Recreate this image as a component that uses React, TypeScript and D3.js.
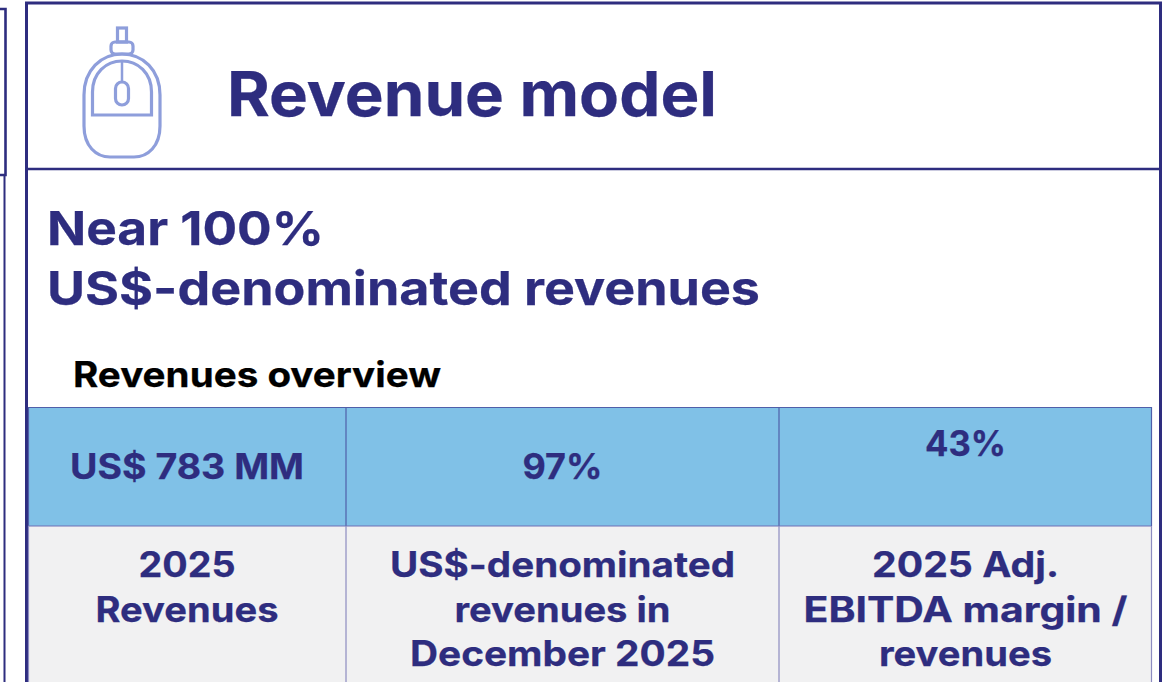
import React from "react";
import { scaleOrdinal, scalePoint, path } from "d3";

const title = "Revenue model";
const headline = ["Near 100%", "US$-denominated revenues"];
const tableTitle = "Revenues overview";
const columns = ["revenues", "usd", "margin"];
const highlights = ["US$ 783 MM", "97%", "43%"];
const descriptions = [
  ["2025", "Revenues"],
  ["US$-denominated", "revenues in", "December 2025"],
  ["2025 Adj.", "EBITDA margin /", "revenues"],
];

const NAVY = "#2e2d7f";
const FONT = "Inter, 'Open Sans', sans-serif";

// column edges and centers, the table columns are not equal
const colLeft = scaleOrdinal<string, number>().domain(columns).range([28, 346, 779]);
const colRight = scaleOrdinal<string, number>().domain(columns).range([346, 779, 1151]);
const colCenter = scaleOrdinal<string, number>().domain(columns).range([187, 562.5, 965.5]);
const highlightY = scaleOrdinal<string, number>().domain(columns).range([479, 479, 456]);
const lineY = scalePoint<number>().domain([0, 1, 2]).range([577, 666]);

// widths measured on the reference, the original font is wider than Inter
const fitted: Record<string, number> = {
  "Revenue model": 490,
  "Near 100%": 277,
  "US$-denominated revenues": 713,
  "Revenues overview": 368,
  "US$ 783 MM": 234,
  "97%": 80,
  "43%": 81,
  "2025": 97,
  Revenues: 183,
  "US$-denominated": 345,
  "revenues in": 216,
  "December 2025": 305,
  "2025 Adj.": 187,
  "EBITDA margin /": 324,
  revenues: 173,
};

const Label = ({ text, x, y, size, anchor = "start", fill = NAVY }: any) => (
  <text
    x={x}
    y={y}
    fontSize={size}
    fontFamily={FONT}
    fontWeight={700}
    fill={fill}
    stroke={fill}
    strokeWidth={0.25}
    textAnchor={anchor}
    textLength={fitted[text]}
    lengthAdjust="spacingAndGlyphs"
  >
    {text}
  </text>
);

const mouseBody = () => {
  const p = path();
  p.moveTo(84, 95);
  p.bezierCurveTo(84, 70, 101, 54, 122, 54);
  p.bezierCurveTo(143, 54, 160, 70, 160, 95);
  p.lineTo(160, 126);
  p.bezierCurveTo(160, 146, 148, 157, 134, 157);
  p.lineTo(110, 157);
  p.bezierCurveTo(96, 157, 84, 146, 84, 126);
  p.closePath();
  return p.toString();
};

const mouseButtons = () => {
  const p = path();
  p.moveTo(92.5, 115);
  p.lineTo(92.5, 92);
  p.bezierCurveTo(92.5, 73, 106, 61, 122, 61);
  p.bezierCurveTo(138, 61, 151.5, 73, 151.5, 92);
  p.lineTo(151.5, 115);
  p.closePath();
  return p.toString();
};

const MouseIcon = () => (
  <g fill="none" stroke="#8e9edb" strokeWidth={3.2}>
    <path d={mouseBody()} />
    <path d={mouseButtons()} />
    <path d="M122 61V82" strokeWidth={2.5} />
    <rect x={115.5} y={82} width={13} height={23} rx={6.5} />
    <rect x={111} y={42} width={22} height={12} rx={4} />
    <rect x={117.5} y={28} width={9} height={14} />
  </g>
);

export default function App() {
  return (
    <svg
      width={1173}
      height={682}
      style={{ position: "absolute", left: 0, top: 0, background: "#fff" }}
    >
      {/* neighbour panel cut off on the left */}
      <path d="M0 9H5.5V175H0" fill="none" stroke={NAVY} strokeWidth={2.6} />
      <line x1={4.5} x2={4.5} y1={176} y2={682} stroke={NAVY} strokeWidth={2} />

      {/* panel frame */}
      <path d="M26.5 682V3H1160.5V682" fill="none" stroke={NAVY} strokeWidth={3} />
      <line x1={26} x2={1160} y1={169} y2={169} stroke={NAVY} strokeWidth={2.5} />

      <MouseIcon />
      <Label text={title} x={227} y={116} size={62} />
      {headline.map((d, i) => (
        <Label key={d} text={d} x={47} y={245 + i * 60} size={47} />
      ))}
      <Label text={tableTitle} x={73} y={387} size={35} fill="#000" />

      {columns.map((c, i) => (
        <g key={c}>
          <rect x={colLeft(c)} y={407} width={colRight(c) - colLeft(c)} height={119} fill="#80c1e7" />
          <rect x={colLeft(c)} y={526} width={colRight(c) - colLeft(c)} height={156} fill="#f1f1f2" />
          <Label text={highlights[i]} x={colCenter(c)} y={highlightY(c)} size={35} anchor="middle" />
          {descriptions[i].map((d, j) => (
            <Label key={d} text={d} x={colCenter(c)} y={lineY(j)} size={35} anchor="middle" />
          ))}
        </g>
      ))}

      {/* table rules */}
      <g fill="none" stroke="#4f5fa9" strokeWidth={1.2}>
        <path d="M28.5 526V407.5H1151.5V526" />
        <line x1={346} x2={346} y1={407} y2={526} />
        <line x1={779} x2={779} y1={407} y2={526} />
        <line x1={28} x2={1151} y1={526} y2={526} stroke="#6f70b5" />
        <path d="M28.5 526V682M346 526V682M779 526V682M1151.5 526V682" stroke="#8d8cc0" />
      </g>
    </svg>
  );
}
